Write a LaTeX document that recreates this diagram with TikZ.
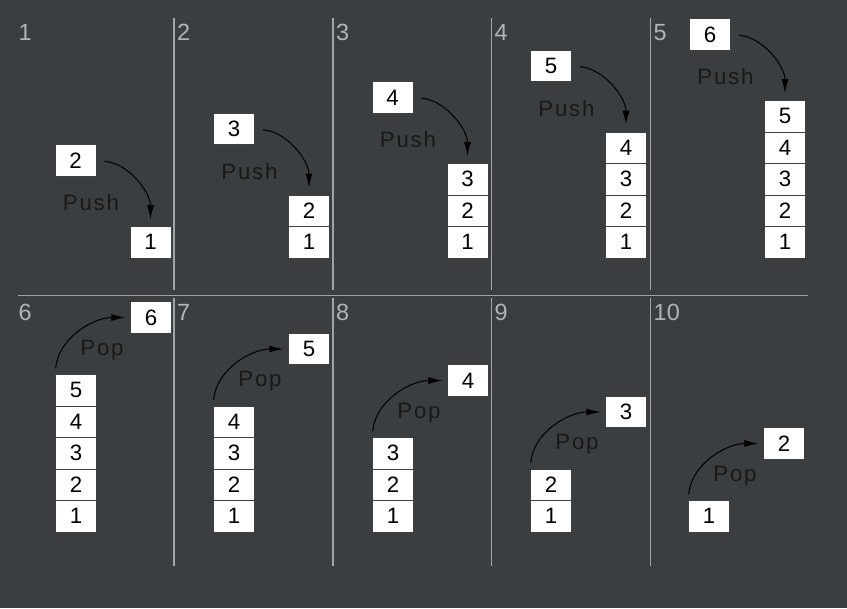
\documentclass[tikz,border=0pt]{standalone}
\usepackage{fontspec}
\setmainfont{Liberation Sans}
\newfontfamily\wordfont[LetterSpace=8]{Liberation Sans}
\usetikzlibrary{arrows.meta}
\definecolor{board}{RGB}{58,62,65}
\definecolor{rule}{RGB}{160,164,166}
\definecolor{tag}{RGB}{176,180,182}
\tikzset{
  >={Latex[length=12pt,width=6pt]},
  cell/.style={draw=black!75, line width=0.6pt, fill=white, minimum width=1.23cm, minimum height=0.945cm, inner sep=0pt, font=\fontsize{19}{19}\selectfont},
  tag/.style={anchor=base west, text=tag, inner sep=0pt, font=\fontsize{20}{20}\selectfont},
  word/.style={anchor=base, inner sep=0pt, text=black!90, font=\fontsize{19}{19}\wordfont},
  sep/.style={rule, line width=1.6pt},
  move/.style={black, line width=0.9pt, ->},
}
\begin{document}
\begin{tikzpicture}[x=0.03cm, y=-0.03cm]

\fill[board] (0,0) rectangle (847,608);
\useasboundingbox (0,0) rectangle (847,608);

% separators
\draw[sep] (18,295.5) -- (808,295.5);
\draw[sep] (174,18) -- (174,290);
\draw[sep] (333,18) -- (333,290);
\draw[sep] (491.5,18) -- (491.5,290);
\draw[sep] (650.5,18) -- (650.5,290);
\draw[sep] (174,298) -- (174,566);
\draw[sep] (333,298) -- (333,566);
\draw[sep] (491.5,298) -- (491.5,566);
\draw[sep] (650.5,298) -- (650.5,566);

% step numbers
\node[tag] (l1) at (18.4,40) {1};
\node[tag] (l2) at (177,40) {2};
\node[tag] (l3) at (336,40) {3};
\node[tag] (l4) at (494.5,40) {4};
\node[tag] (l5) at (653.5,40) {5};
\node[tag] (l6) at (18.4,320) {6};
\node[tag] (l7) at (177,320) {7};
\node[tag] (l8) at (336,320) {8};
\node[tag] (l9) at (494.5,320) {9};
\node[tag] (l10) at (653.5,320) {10};

% push 2
\node[cell] (t1c1) at (150.5,242.25) {1};
\node[cell] (n1) at (75.5,160.5) {2};
\node[word] (w1) at (91,210.5) {Push};
\draw[move, shorten <=7pt, shorten >=6pt] (n1.east) to[out=-5,in=90] (t1c1.north);

% push 3
\node[cell] (t2c1) at (309,242.25) {1};
\node[cell] (t2c2) at (309,210.75) {2};
\node[cell] (n2) at (234,129) {3};
\node[word] (w2) at (249.5,179) {Push};
\draw[move, shorten <=7pt, shorten >=6pt] (n2.east) to[out=-5,in=90] (t2c2.north);

% push 4
\node[cell] (t3c1) at (467.5,242.25) {1};
\node[cell] (t3c2) at (467.5,210.75) {2};
\node[cell] (t3c3) at (467.5,179.25) {3};
\node[cell] (n3) at (392.5,97.5) {4};
\node[word] (w3) at (408,147.5) {Push};
\draw[move, shorten <=7pt, shorten >=6pt] (n3.east) to[out=-5,in=90] (t3c3.north);

% push 5
\node[cell] (t4c1) at (626,242.25) {1};
\node[cell] (t4c2) at (626,210.75) {2};
\node[cell] (t4c3) at (626,179.25) {3};
\node[cell] (t4c4) at (626,147.75) {4};
\node[cell] (n4) at (551,66) {5};
\node[word] (w4) at (566.5,116) {Push};
\draw[move, shorten <=7pt, shorten >=6pt] (n4.east) to[out=-5,in=90] (t4c4.north);

% push 6
\node[cell] (t5c1) at (785,242.25) {1};
\node[cell] (t5c2) at (785,210.75) {2};
\node[cell] (t5c3) at (785,179.25) {3};
\node[cell] (t5c4) at (785,147.75) {4};
\node[cell] (t5c5) at (785,116.25) {5};
\node[cell] (n5) at (710,34.5) {6};
\node[word] (w5) at (725.5,84.5) {Push};
\draw[move, shorten <=7pt, shorten >=6pt] (n5.east) to[out=-5,in=90] (t5c5.north);

% pop 6
\node[cell] (b6c1) at (76,516.25) {1};
\node[cell] (b6c2) at (76,484.75) {2};
\node[cell] (b6c3) at (76,453.25) {3};
\node[cell] (b6c4) at (76,421.75) {4};
\node[cell] (b6c5) at (76,390.25) {5};
\node[cell] (m6) at (151,317.5) {6};
\node[word] (w6) at (102,355) {Pop};
\draw[move, shorten <=5pt, shorten >=4pt] (b6c5.north west) to[out=85,in=180] (m6.west);

% pop 5
\node[cell] (b7c1) at (234,516.25) {1};
\node[cell] (b7c2) at (234,484.75) {2};
\node[cell] (b7c3) at (234,453.25) {3};
\node[cell] (b7c4) at (234,421.75) {4};
\node[cell] (m7) at (309,349) {5};
\node[word] (w7) at (260,386.5) {Pop};
\draw[move, shorten <=5pt, shorten >=4pt] (b7c4.north west) to[out=85,in=180] (m7.west);

% pop 4
\node[cell] (b8c1) at (393,516.25) {1};
\node[cell] (b8c2) at (393,484.75) {2};
\node[cell] (b8c3) at (393,453.25) {3};
\node[cell] (m8) at (468,380.5) {4};
\node[word] (w8) at (419,418) {Pop};
\draw[move, shorten <=5pt, shorten >=4pt] (b8c3.north west) to[out=85,in=180] (m8.west);

% pop 3
\node[cell] (b9c1) at (551,516.25) {1};
\node[cell] (b9c2) at (551,484.75) {2};
\node[cell] (m9) at (626,412) {3};
\node[word] (w9) at (577,449.5) {Pop};
\draw[move, shorten <=5pt, shorten >=4pt] (b9c2.north west) to[out=85,in=180] (m9.west);

% pop 2
\node[cell] (b10c1) at (709,516.25) {1};
\node[cell] (m10) at (784,443.5) {2};
\node[word] (w10) at (735,481) {Pop};
\draw[move, shorten <=5pt, shorten >=4pt] (b10c1.north west) to[out=85,in=180] (m10.west);

\end{tikzpicture}
\end{document}
